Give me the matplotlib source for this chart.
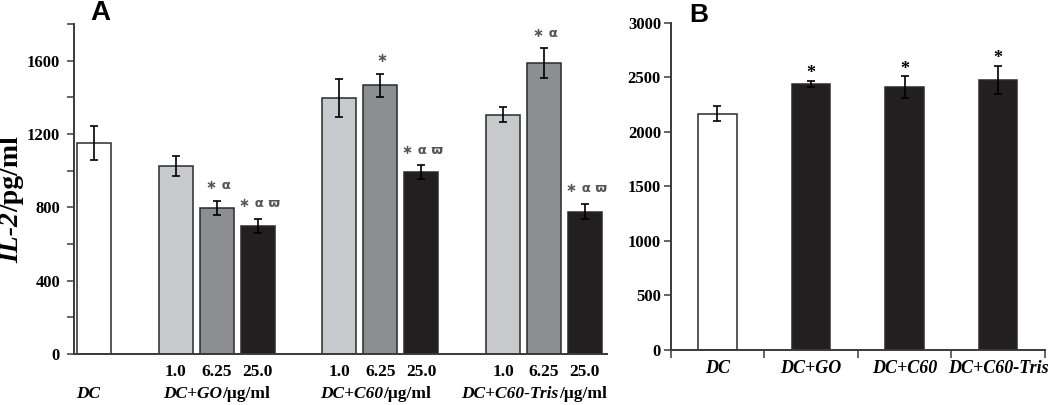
import matplotlib
matplotlib.use("Agg")
import matplotlib.pyplot as plt
import matplotlib.transforms as mtrans
from matplotlib.ticker import MultipleLocator
import numpy as np

plt.rcParams['font.family'] = ['Liberation Serif', 'DejaVu Serif']
plt.rcParams['font.weight'] = 'bold'

# ---------------- data ----------------
# Panel A
dose_labels = ["1.0", "6.25", "25.0"]
dc_a_value = 1150
dc_a_err = 92
go_values = [1025, 796, 698]
go_err = [55, 40, 38]
c60_values = [1396, 1466, 993]
c60_err = [105, 63, 36]
tris_values = [1305, 1587, 776]
tris_err = [40, 80, 42]
go_marks = ["", "∗ α", "∗ α ϖ"]
c60_marks = ["", "∗", "∗ α ϖ"]
tris_marks = ["", "∗ α", "∗ α ϖ"]
group_names = ["DC+GO", "DC+C60", "DC+C60-Tris"]
unit_text = "/μg/ml"
ylabel_italic = "IL-2"
ylabel_plain = "/pg/ml"

# Panel B
b_categories = ["DC", "DC+GO", "DC+C60", "DC+C60-Tris"]
b_values = [2165, 2440, 2407, 2477]
b_err = [67, 30, 100, 130]
b_marks = ["", "*", "*", "*"]

# --------------- styling ---------------
W, H = 1050, 405
fig = plt.figure(figsize=(W / 100, H / 100), dpi=100)
renderer = fig.canvas.get_renderer()

white = "#ffffff"
light = "#c8c9cc"
mid = "#8d8e91"
dark = "#231f20"
edge = "#2a2a2a"
spine_c = "#3a3a3a"
dose_colors = [light, mid, dark]

def style_axes(ax):
    for s in ("top", "right"):
        ax.spines[s].set_visible(False)
    for s in ("left", "bottom"):
        ax.spines[s].set_color(spine_c)
        ax.spines[s].set_linewidth(1.4)

def rich(x, y, pieces, size, rotation=0, transform=None):
    """Place a run of text pieces (string, fontstyle) centred at (x, y)."""
    arts = []
    for s, st in pieces:
        t = fig.text(0, 0, s, fontsize=size, fontweight='bold', fontstyle=st,
                     rotation=rotation, rotation_mode='anchor',
                     ha='left', va='baseline')
        arts.append(t)
    lens = []
    for t in arts:
        bb = t.get_window_extent(renderer)
        lens.append(bb.width if rotation == 0 else bb.height)
    X, Y = (transform.transform((x, y)) if transform is not None else (x, y))
    pos = -sum(lens) / 2
    inv = fig.transFigure.inverted()
    for t, L in zip(arts, lens):
        if rotation == 0:
            t.set_position(inv.transform((X + pos, Y)))
        else:
            t.set_position(inv.transform((X, Y + pos)))
        pos += L

# ---------------- Panel A ----------------
axA = fig.add_axes([74 / W, 1 - 354 / H, (607 - 74) / W, (354 - 24) / H])
style_axes(axA)
bw = 0.83
ekw = dict(ecolor="black", elinewidth=1.2, capsize=3, capthick=1.2)

axA.bar([0], [dc_a_value], width=bw, color=white, edgecolor=edge, linewidth=1.1,
        yerr=[dc_a_err], error_kw=ekw, zorder=2)

group_starts = [2, 6, 10]
all_vals = [go_values, c60_values, tris_values]
all_errs = [go_err, c60_err, tris_err]
all_marks = [go_marks, c60_marks, tris_marks]
tick_pos, tick_lab = [], []
for g0, vals, errs, marks in zip(group_starts, all_vals, all_errs, all_marks):
    xs = [g0 + i for i in range(len(vals))]
    axA.bar(xs, vals, width=bw, color=dose_colors, edgecolor=edge, linewidth=1.1,
            yerr=errs, error_kw=ekw, zorder=2)
    for xi, v, e, m in zip(xs, vals, errs, marks):
        if m:
            axA.annotate(m, (xi, v + e), xytext=(1, 8.5), textcoords="offset points",
                         ha="center", va="baseline", fontsize=9.5, color="#555555",
                         family=["DejaVu Sans"], fontweight="bold")
    tick_pos += xs
    tick_lab += dose_labels

axA.set_xlim(-0.489, 12.54)
axA.set_ylim(0, 1800)
axA.set_xticks(tick_pos, tick_lab, fontsize=12.5)
axA.tick_params(axis="x", length=0, pad=7)
axA.yaxis.set_major_locator(MultipleLocator(400))
axA.yaxis.set_minor_locator(MultipleLocator(200))
axA.tick_params(axis="y", which="both", direction="out", length=5, width=1.1,
                color=spine_c, labelsize=12, pad=5)

# group labels (italic part + plain unit)
base_y = H - 398
blend = mtrans.blended_transform_factory(axA.transData, mtrans.IdentityTransform())
rich(-0.13, base_y, [("DC", "italic")], 12.5, transform=blend)
for cx, name in zip([2.99, 6.89, 10.76], group_names):
    rich(cx, base_y, [(name, "italic"), (unit_text, "normal")], 12.5, transform=blend)

# y label
rich(18, 205, [(ylabel_italic, "italic"), (ylabel_plain, "normal")], 20, rotation=90)

# ---------------- Panel B ----------------
axB = fig.add_axes([670.7 / W, 1 - 350 / H, (1045 - 670.7) / W, (350 - 22.7) / H])
style_axes(axB)
bx = np.arange(len(b_categories))
b_colors = [white] + [dark] * (len(b_categories) - 1)
axB.bar(bx, b_values, width=0.41, color=b_colors, edgecolor=edge, linewidth=1.1,
        yerr=b_err, error_kw=ekw, zorder=2)
for xi, v, e, m in zip(bx, b_values, b_err, b_marks):
    if m:
        axB.annotate(m, (xi, v + e), xytext=(0, 2), textcoords="offset points",
                     ha="center", va="baseline", fontsize=13)
axB.set_xlim(-0.5, 3.5)
axB.set_ylim(0, 3000)
axB.set_xticks(np.arange(-0.5, len(b_categories), 1.0))
axB.set_xticklabels([])
axB.set_xticks(bx, b_categories, minor=True, fontsize=13, fontstyle="italic")
axB.tick_params(axis="x", which="major", direction="out", length=6, width=1.1, color=spine_c)
axB.tick_params(axis="x", which="minor", length=0, pad=7)
axB.yaxis.set_major_locator(MultipleLocator(500))
axB.tick_params(axis="y", direction="out", length=5, width=1.1, color=spine_c,
                labelsize=12, pad=2)

# panel letters
fig.text(100 / W, 1 - 20 / H, "A", fontsize=20, fontweight="bold",
         family=["Liberation Sans"], ha="center", va="baseline")
fig.text(698.5 / W, 1 - 22 / H, "B", fontsize=19, fontweight="bold",
         family=["Liberation Sans"], ha="center", va="baseline")

fig.savefig("out.png", dpi=100)
